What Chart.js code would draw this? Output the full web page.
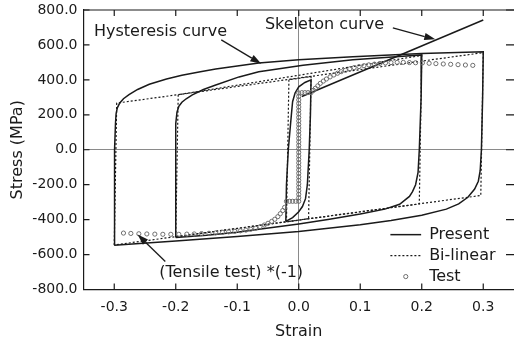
<!DOCTYPE html>
<html>
<head>
<meta charset="utf-8">
<script src="https://cdn.jsdelivr.net/npm/chart.js@4.4.0/dist/chart.umd.min.js"></script>
<style>
  html, body { margin: 0; padding: 0; background: #fff; }
  #wrap { width: 514px; height: 347px; }
</style>
</head>
<body>
<div id="wrap"><canvas id="chart" width="514" height="347"></canvas></div>
<script>
// tick labels
const xTickValues = [-0.3, -0.2, -0.1, 0.0, 0.1, 0.2, 0.3];
const yTickValues = [-800, -600, -400, -200, 0, 200, 400, 600, 800];

// Present model: loops at strain amplitude 0.3, 0.2 and ~0.02 [strain, MPa]
const present03 = [
  [-0.300, -547], [-0.300, -300], [-0.299, 0], [-0.298, 150], [-0.297, 205], [-0.295, 240],
  [-0.291, 268], [-0.285, 292], [-0.276, 315], [-0.262, 345], [-0.243, 375], [-0.215, 405],
  [-0.190, 427], [-0.160, 447], [-0.135, 462], [-0.100, 480], [-0.065, 496], [0.000, 515],
  [0.088, 533], [0.200, 551], [0.300, 561],
  [0.299, 300], [0.297, 0], [0.295, -120], [0.292, -180], [0.286, -225], [0.275, -272],
  [0.260, -310], [0.240, -340], [0.200, -375], [0.150, -405], [0.100, -430], [0.000, -468],
  [-0.100, -497], [-0.200, -522], [-0.300, -547]
];
const present02 = [
  [-0.200, -503], [-0.200, -200], [-0.200, 0], [-0.200, 150], [-0.198, 215], [-0.195, 248],
  [-0.190, 272], [-0.183, 292], [-0.173, 314], [-0.155, 345], [-0.135, 371], [-0.097, 417],
  [-0.065, 447], [0.007, 484], [0.088, 515], [0.158, 533], [0.200, 543],
  [0.199, 300], [0.196, 0], [0.194, -130], [0.190, -200], [0.185, -240], [0.180, -267],
  [0.164, -312], [0.140, -340], [0.100, -368], [0.050, -398], [0.000, -425], [-0.074, -460],
  [-0.100, -472], [-0.150, -490], [-0.200, -503]
];
const presentSmall = [
  [-0.021, -410], [-0.020, -200], [-0.017, 0], [-0.014, 120], [-0.012, 200], [-0.010, 275],
  [-0.006, 325], [0.000, 360], [0.010, 385], [0.020, 400],
  [0.019, 200], [0.017, 0], [0.014, -200], [0.011, -280], [0.006, -325], [0.000, -355],
  [-0.010, -388], [-0.021, -410]
];
const skeleton = [[0.005, 305], [0.300, 743]];

// Bi-linear model loops
const bilinear03 = [[-0.300, -545], [-0.296, 267], [0.300, 556], [0.296, -262], [-0.300, -545]];
const bilinear02 = [[-0.200, -498], [-0.196, 315], [0.200, 540], [0.196, -310], [-0.200, -498]];
const bilinearSmall = [[-0.020, -412], [-0.016, 401], [0.020, 419], [0.016, -395], [-0.020, -412]];

// Test data
const testCycle = [
  [-0.020, -295], [-0.015, -295], [-0.010, -295], [-0.005, -295],
  [0.000, -295], [0.000, -275], [0.000, -255], [0.000, -235], [0.000, -215], [0.000, -195],
  [0.000, -175], [0.000, -155], [0.000, -135], [0.000, -115], [0.000, -95], [0.000, -75],
  [0.000, -55], [0.000, -35], [0.000, -15], [0.000, 5], [0.000, 25], [0.000, 45],
  [0.000, 65], [0.000, 85], [0.000, 105], [0.000, 125], [0.000, 145], [0.000, 165],
  [0.000, 185], [0.000, 205], [0.000, 225], [0.000, 245], [0.000, 265], [0.000, 285],
  [0.000, 305], [0.000, 325], [0.005, 327], [0.010, 327], [0.015, 327], [0.020, 327]
];
const testTension = [
  [0.024, 340], [0.027, 352], [0.031, 366], [0.035, 380], [0.040, 393], [0.045, 405],
  [0.051, 417], [0.057, 428], [0.063, 438], [0.069, 447], [0.076, 455], [0.083, 463],
  [0.090, 470], [0.098, 476], [0.106, 481], [0.114, 486], [0.123, 490], [0.132, 494],
  [0.141, 497], [0.150, 499], [0.160, 500], [0.170, 500], [0.180, 499], [0.190, 498],
  [0.201, 497], [0.212, 495], [0.223, 493], [0.235, 491], [0.247, 489], [0.259, 487],
  [0.271, 485], [0.283, 483]
];
const testCompression = [
  [-0.023, -330], [-0.026, -348], [-0.030, -366], [-0.034, -383], [-0.039, -398],
  [-0.044, -410], [-0.050, -421], [-0.056, -431], [-0.063, -441], [-0.070, -449],
  [-0.078, -455], [-0.086, -460], [-0.095, -464], [-0.104, -467], [-0.114, -470],
  [-0.124, -473], [-0.135, -476], [-0.146, -478], [-0.158, -480], [-0.170, -482],
  [-0.182, -483], [-0.195, -484], [-0.208, -484], [-0.221, -484], [-0.234, -483],
  [-0.247, -482], [-0.260, -481], [-0.273, -479], [-0.285, -477]
];

// labels with arrows, placed in data units
const notes = [
  { text: 'Hysteresis curve', at: [-0.333, 676], from: [-0.126, 629], to: [-0.061, 492] },
  { text: 'Skeleton curve', at: [-0.055, 716], from: [0.153, 697], to: [0.222, 632] },
  { text: '(Tensile test) *(-1)', at: [-0.227, -703], from: [-0.217, -640], to: [-0.262, -485] }
];

const ink = '#1a1a1a';
const testInk = '#6e6e6e';
const FONT = '"DejaVu Sans", sans-serif';

const pts = arr => arr.map(p => ({ x: p[0], y: p[1] }));

function solid(label, arr) {
  return { label, data: pts(arr), showLine: true, borderColor: ink, borderWidth: 1.5,
    pointRadius: 0, tension: 0, fill: false };
}
function dotted(label, arr) {
  return { label, data: pts(arr), showLine: true, borderColor: ink, borderWidth: 1.2,
    borderDash: [2, 2], pointRadius: 0, tension: 0, fill: false };
}
function circles(label, arr) {
  return { label, data: pts(arr), showLine: false, pointRadius: 2.1, pointStyle: 'circle',
    pointBorderColor: testInk, pointBackgroundColor: 'rgba(255,255,255,0)', pointBorderWidth: 1 };
}

function arrow(ctx, x1, y1, x2, y2) {
  const ang = Math.atan2(y2 - y1, x2 - x1);
  const len = 11, half = 3.6;
  const bx = x2 - len * Math.cos(ang), by = y2 - len * Math.sin(ang);
  ctx.beginPath();
  ctx.moveTo(x1, y1);
  ctx.lineTo(bx, by);
  ctx.stroke();
  ctx.beginPath();
  ctx.moveTo(x2, y2);
  ctx.lineTo(bx + half * Math.sin(ang), by - half * Math.cos(ang));
  ctx.lineTo(bx - half * Math.sin(ang), by + half * Math.cos(ang));
  ctx.closePath();
  ctx.fill();
}

const overlay = {
  id: 'overlay',
  afterDraw(chart) {
    const { ctx, chartArea: a, scales: { x, y } } = chart;
    ctx.save();
    ctx.strokeStyle = ink;
    ctx.fillStyle = ink;
    ctx.lineWidth = 1.2;
    // top edge of the frame (right edge falls just outside the picture)
    ctx.beginPath();
    ctx.moveTo(a.left, a.top); ctx.lineTo(a.right, a.top);
    ctx.stroke();

    // inward ticks on all four sides
    ctx.beginPath();
    xTickValues.forEach(v => {
      const px = x.getPixelForValue(v);
      ctx.moveTo(px, a.bottom); ctx.lineTo(px, a.bottom - 6);
      ctx.moveTo(px, a.top); ctx.lineTo(px, a.top + 6);
    });
    yTickValues.forEach(v => {
      const py = y.getPixelForValue(v);
      ctx.moveTo(a.left, py); ctx.lineTo(a.left + 6, py);
      ctx.moveTo(a.right, py); ctx.lineTo(a.right - 8, py);
    });
    ctx.stroke();

    // annotations
    ctx.font = '16px ' + FONT;
    ctx.textBaseline = 'middle';
    ctx.textAlign = 'left';
    ctx.lineWidth = 1.3;
    notes.forEach(n => {
      ctx.fillText(n.text, x.getPixelForValue(n.at[0]), y.getPixelForValue(n.at[1]));
      arrow(ctx, x.getPixelForValue(n.from[0]), y.getPixelForValue(n.from[1]),
        x.getPixelForValue(n.to[0]), y.getPixelForValue(n.to[1]));
    });

    // legend inside the plot, lower right
    const lx1 = x.getPixelForValue(0.149), lx2 = x.getPixelForValue(0.199);
    const tx = x.getPixelForValue(0.212);
    const rows = [-486, -606, -726].map(v => y.getPixelForValue(v));
    ctx.lineWidth = 1.5;
    ctx.beginPath(); ctx.moveTo(lx1, rows[0]); ctx.lineTo(lx2, rows[0]); ctx.stroke();
    ctx.lineWidth = 1.2;
    ctx.setLineDash([2, 2]);
    ctx.beginPath(); ctx.moveTo(lx1, rows[1]); ctx.lineTo(lx2, rows[1]); ctx.stroke();
    ctx.setLineDash([]);
    ctx.strokeStyle = testInk;
    ctx.lineWidth = 1;
    ctx.beginPath(); ctx.arc((lx1 + lx2) / 2, rows[2], 2.1, 0, Math.PI * 2); ctx.stroke();
    ctx.fillStyle = ink;
    ctx.fillText('Present', tx, rows[0]);
    ctx.fillText('Bi-linear', tx, rows[1]);
    ctx.fillText('Test', tx, rows[2]);
    ctx.restore();
  }
};

const zeroLine = ctx => (ctx.tick && ctx.tick.value === 0 ? '#8a8a8a' : 'rgba(0,0,0,0)');

new Chart(document.getElementById('chart'), {
  type: 'scatter',
  data: {
    datasets: [
      circles('Test', testCycle),
      circles('Test', testTension),
      circles('Test', testCompression),
      solid('Present', present03),
      solid('Present', present02),
      solid('Present', presentSmall),
      solid('Present', skeleton),
      dotted('Bi-linear', bilinear03),
      dotted('Bi-linear', bilinear02),
      dotted('Bi-linear', bilinearSmall)
    ]
  },
  options: {
    responsive: false,
    animation: false,
    devicePixelRatio: 1,
    // no automatic padding for point overflow: the frame's right edge sits at the picture edge
    layout: { autoPadding: false, padding: { top: 10, right: 0, bottom: 0, left: 0 } },
    plugins: { legend: { display: false }, tooltip: { enabled: false } },
    scales: {
      x: {
        type: 'linear', min: -0.35, max: 0.35,
        afterBuildTicks: s => { s.ticks = xTickValues.map(v => ({ value: v })); },
        afterFit: s => { s.height = 57.5; s.paddingLeft = 0; s.paddingRight = 0; },
        ticks: { padding: 9, color: ink, font: { family: FONT, size: 14 },
          callback: v => v.toFixed(1) },
        grid: { drawTicks: false, color: zeroLine, lineWidth: 1 },
        border: { display: true, color: ink, width: 1.2 },
        title: { display: true, text: 'Strain', color: ink, font: { family: FONT, size: 16 },
          padding: { top: 0, bottom: 6 } }
      },
      y: {
        type: 'linear', min: -800, max: 800,
        afterBuildTicks: s => { s.ticks = yTickValues.map(v => ({ value: v })); },
        afterFit: s => { s.width = 83.5; s.paddingTop = 0; s.paddingBottom = 0; },
        ticks: { padding: 6, color: ink, font: { family: FONT, size: 14 },
          callback: v => v.toFixed(1) },
        grid: { drawTicks: false, color: zeroLine, lineWidth: 1 },
        border: { display: true, color: ink, width: 1.2 },
        title: { display: true, text: 'Stress (MPa)', color: ink, font: { family: FONT, size: 16 },
          padding: { top: 8, bottom: 0 } }
      }
    }
  },
  plugins: [overlay]
});
</script>
</body>
</html>
